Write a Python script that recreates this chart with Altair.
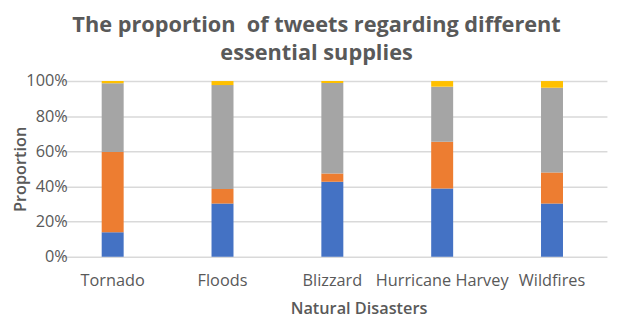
import altair as alt
import pandas as pd

categories = ["Tornado", "Floods", "Blizzard", "Hurricane Harvey", "Wildfires"]
series_names = ["Food", "Water", "Shelter", "Medicine"]
series_colors = ["#4472C4", "#ED7D31", "#A5A5A5", "#FFC000"]
blue_vals = [14.0, 30.3, 42.7, 38.8, 30.3]
orange_vals = [45.6, 8.3, 4.7, 26.7, 17.7]
gray_vals = [39.2, 59.1, 51.5, 31.3, 48.2]
yellow_vals = [1.2, 2.3, 1.1, 3.2, 3.8]

rows = []
for s_idx, (name, vals) in enumerate(zip(series_names, [blue_vals, orange_vals, gray_vals, yellow_vals])):
    for cat, v in zip(categories, vals):
        rows.append({"Disaster": cat, "Supply": name, "value": v, "order": s_idx})
df = pd.DataFrame(rows)

FONT = "Open Sans"
TXT = "#595959"

chart = alt.Chart(df).mark_bar().encode(
    x=alt.X("Disaster:N", sort=categories,
            scale=alt.Scale(range=[-28.6, 527.6], paddingInner=0.8, paddingOuter=0.4),
            axis=alt.Axis(title="Natural Disasters", labelAngle=0, labelFont=FONT, labelFontSize=16.5,
                          labelColor=TXT, labelPadding=16, ticks=False, tickSize=0, domain=False,
                          grid=False, titleFont=FONT, titleFontSize=16.5, titleColor=TXT,
                          titleFontWeight=600, titleX=276, titleY=44, titleBaseline="top")),
    y=alt.Y("value:Q", stack="normalize",
            scale=alt.Scale(domain=[0, 1]),
            axis=alt.Axis(title="Proportion", format="%", values=[0, 0.2, 0.4, 0.6, 0.8, 1.0],
                          labelFont=FONT, labelFontSize=16.5, labelColor=TXT, labelPadding=19,
                          ticks=False, tickSize=0, domain=False, grid=True, gridColor="#d9d9d9",
                          gridWidth=1.5, titleFont=FONT, titleFontSize=16.5, titleColor=TXT,
                          titleFontWeight=600, titleX=-66, titleY=89, titleAngle=270,
                          titleBaseline="middle", titleAlign="center")),
    color=alt.Color("Supply:N", sort=series_names,
                    scale=alt.Scale(domain=series_names, range=series_colors), legend=None),
    order=alt.Order("order:Q", sort="ascending"),
).properties(
    width=553,
    height=178,
    title=alt.Title(["The proportion\u00a0 of tweets regarding different", "essential supplies"],
                    font=FONT, fontSize=22, fontWeight="bold", color=TXT, anchor="middle",
                    dx=-43, dy=-4, lineHeight=29),
    autosize=alt.AutoSizeParams(type="none"),
    padding={"left": 79, "top": 72, "right": 0, "bottom": 60},
).configure_view(stroke=None)

chart.save("out.html", embed_options={"renderer": "svg", "actions": False})
